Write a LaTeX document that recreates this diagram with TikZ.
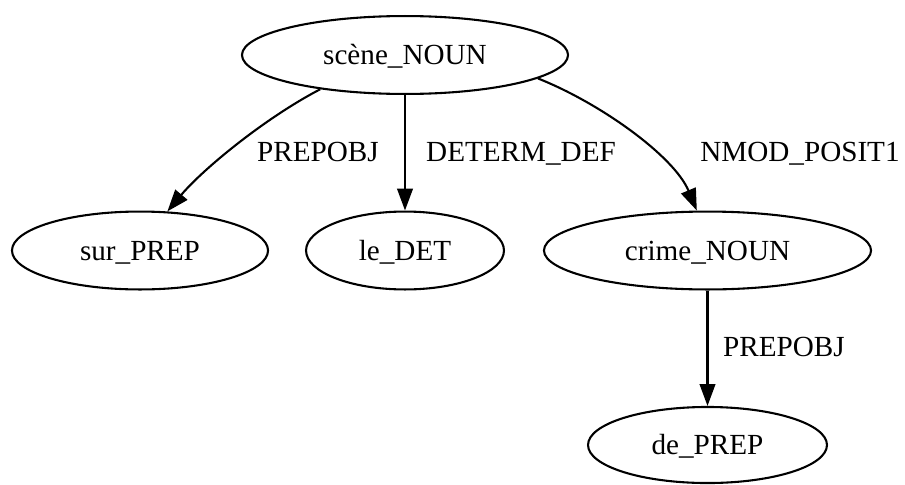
\documentclass[tikz,border=0pt]{standalone}
\usepackage{fontspec}
\setmainfont{Liberation Serif}
\usetikzlibrary{shapes.geometric,arrows.meta}
\begin{document}
\begin{tikzpicture}[x=0.48pt,y=-0.48pt,
  every node/.style={font=\fontsize{14pt}{16pt}\selectfont, text height=9.3pt, text depth=0pt, inner sep=0pt},
  tok/.style={draw=black, line width=1pt, ellipse, minimum height=37.4pt},
  lbl/.style={anchor=center},
  edge/.style={draw=black, line width=1pt, -{Triangle[length=10.5pt,width=7.5pt]}}]
\useasboundingbox (0,0) rectangle (905,484);
\node[tok, minimum width=156.5pt] (s) at (405,55) {scène\_NOUN};
\node[tok, minimum width=122.9pt] (sur) at (140,250.5) {sur\_PREP};
\node[tok, minimum width=95pt] (le) at (405,250.5) {le\_DET};
\node[tok, minimum width=157pt] (cr) at (707.5,250.5) {crime\_NOUN};
\node[tok, minimum width=114.7pt, minimum height=36.5pt] (de) at (707.5,445) {de\_PREP};
\draw[edge] (s.202) .. controls (265,118) and (203,169) .. (sur.55);
\draw[edge] (s) -- (le);
\draw[edge] (s.-10) .. controls (600,103) and (674,156) .. (cr.105);
\draw[edge] (cr) -- (de);
\node[lbl] (l1) at (318,152) {PREPOBJ};
\node[lbl] (l2) at (521,152) {DETERM\_DEF};
\node[lbl] (l3) at (800,152) {NMOD\_POSIT1};
\node[lbl] (l4) at (784,347) {PREPOBJ};
\end{tikzpicture}
\end{document}
